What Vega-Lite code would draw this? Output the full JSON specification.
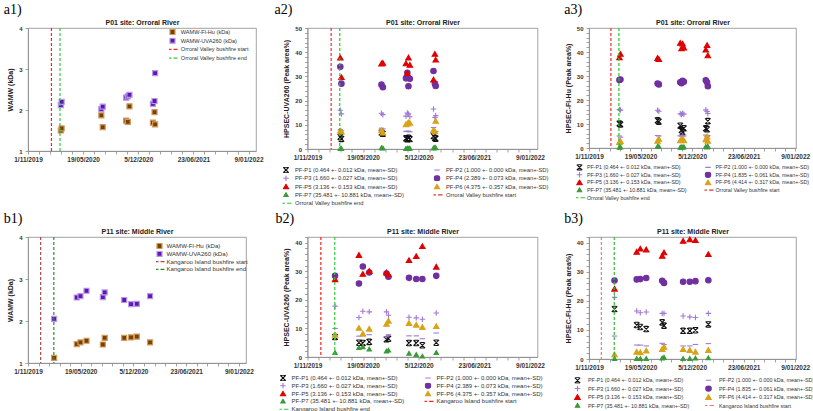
{
  "$schema": "https://vega.github.io/schema/vega-lite/v6.json",
  "background": "white",
  "padding": {"left": 3, "top": 2, "right": 0, "bottom": 0},
  "bounds": "flush",
  "align": "each",
  "columns": 3,
  "spacing": {"row": 86, "column": 51.5},
  "resolve": {"scale": {"fill": "independent", "stroke": "independent", "shape": "independent"}, "legend": {"fill": "independent", "stroke": "independent", "shape": "independent"}},
  "config": {
    "font": "Liberation Sans",
    "view": {"stroke": "#8c8c8c", "strokeWidth": 0.8},
    "axis": {"grid": false, "domainColor": "#8c8c8c", "domainWidth": 0.8, "tickColor": "#8c8c8c", "tickWidth": 0.8, "tickSize": 3, "labelFont": "Liberation Sans", "labelFontWeight": "bold", "labelColor": "#333333", "titleFont": "Liberation Sans", "titleFontWeight": "bold", "titleColor": "#222222", "titleFontSize": 7, "labelOverlap": false},
    "axisX": {"labelFontSize": 6.5, "labelPadding": 2},
    "axisY": {"labelFontSize": 6, "labelPadding": 3, "titlePadding": 5},
    "legend": {"labelFont": "Liberation Sans", "labelColor": "#333333", "padding": 0, "symbolFillColor": "transparent", "symbolOpacity": 1, "clipHeight": 6},
    "title": {"font": "Liberation Serif", "fontSize": 14, "fontWeight": "normal", "color": "#000000", "anchor": "start", "offset": 1}
  },
  "datasets": {
    "fireO": [{"d": "2020-01-25", "s": "start"}, {"d": "2020-02-25", "s": "end"}],
    "fireK": [{"d": "2019-12-19", "s": "start"}, {"d": "2020-02-07", "s": "end"}],
    "a1": [
      {"d": "2020-02-28", "s": "Fl", "v": 1.50}, {"d": "2020-03-02", "s": "Fl", "v": 1.55}, {"d": "2020-07-24", "s": "Fl", "v": 1.87}, {"d": "2020-07-29", "s": "Fl", "v": 1.58}, {"d": "2020-10-22", "s": "Fl", "v": 1.74}, {"d": "2020-10-28", "s": "Fl", "v": 1.71}, {"d": "2020-11-03", "s": "Fl", "v": 2.09}, {"d": "2021-01-27", "s": "Fl", "v": 1.69}, {"d": "2021-02-02", "s": "Fl", "v": 1.95}, {"d": "2021-02-04", "s": "Fl", "v": 1.65},
      {"d": "2020-02-28", "s": "UV", "v": 2.12}, {"d": "2020-03-02", "s": "UV", "v": 2.20}, {"d": "2020-07-24", "s": "UV", "v": 2.02}, {"d": "2020-07-29", "s": "UV", "v": 2.08}, {"d": "2020-10-22", "s": "UV", "v": 2.30}, {"d": "2020-10-28", "s": "UV", "v": 2.33}, {"d": "2020-11-03", "s": "UV", "v": 2.37}, {"d": "2021-01-27", "s": "UV", "v": 2.15}, {"d": "2021-02-02", "s": "UV", "v": 2.22}, {"d": "2021-02-04", "s": "UV", "v": 2.90}
    ],
    "b1": [
      {"d": "2020-02-08", "s": "Fl", "v": 1.12}, {"d": "2020-05-04", "s": "Fl", "v": 1.45}, {"d": "2020-05-18", "s": "Fl", "v": 1.49}, {"d": "2020-06-10", "s": "Fl", "v": 1.53}, {"d": "2020-08-11", "s": "Fl", "v": 1.44}, {"d": "2020-08-18", "s": "Fl", "v": 1.60}, {"d": "2020-10-31", "s": "Fl", "v": 1.60}, {"d": "2020-11-26", "s": "Fl", "v": 1.61}, {"d": "2020-12-18", "s": "Fl", "v": 1.63}, {"d": "2021-02-06", "s": "Fl", "v": 1.49},
      {"d": "2020-02-08", "s": "UV", "v": 2.05}, {"d": "2020-05-04", "s": "UV", "v": 2.56}, {"d": "2020-05-18", "s": "UV", "v": 2.59}, {"d": "2020-06-10", "s": "UV", "v": 2.72}, {"d": "2020-08-11", "s": "UV", "v": 2.57}, {"d": "2020-08-18", "s": "UV", "v": 2.68}, {"d": "2020-10-31", "s": "UV", "v": 2.50}, {"d": "2020-11-26", "s": "UV", "v": 2.40}, {"d": "2020-12-18", "s": "UV", "v": 2.41}, {"d": "2021-02-06", "s": "UV", "v": 2.59}
    ],
    "a2": [
      {"d": "2020-02-27", "s": "P1", "v": 5.0}, {"d": "2020-03-02", "s": "P1", "v": 4.2}, {"d": "2020-07-24", "s": "P1", "v": 6.8}, {"d": "2020-07-29", "s": "P1", "v": 6.3}, {"d": "2020-10-20", "s": "P1", "v": 4.4}, {"d": "2020-10-25", "s": "P1", "v": 4.0}, {"d": "2020-10-29", "s": "P1", "v": 4.6}, {"d": "2020-11-03", "s": "P1", "v": 4.1}, {"d": "2021-01-27", "s": "P1", "v": 5.3}, {"d": "2021-02-01", "s": "P1", "v": 4.5}, {"d": "2021-02-04", "s": "P1", "v": 4.3},
      {"d": "2020-02-27", "s": "P2", "v": 8.0}, {"d": "2020-03-02", "s": "P2", "v": 7.5}, {"d": "2020-07-24", "s": "P2", "v": 8.6}, {"d": "2020-07-29", "s": "P2", "v": 8.3}, {"d": "2020-10-20", "s": "P2", "v": 7.3}, {"d": "2020-10-25", "s": "P2", "v": 7.2}, {"d": "2020-10-29", "s": "P2", "v": 7.4}, {"d": "2020-11-03", "s": "P2", "v": 7.1}, {"d": "2021-01-27", "s": "P2", "v": 8.9}, {"d": "2021-02-01", "s": "P2", "v": 7.3}, {"d": "2021-02-04", "s": "P2", "v": 7.2},
      {"d": "2020-02-27", "s": "P3", "v": 16.0}, {"d": "2020-03-02", "s": "P3", "v": 14.5}, {"d": "2020-07-24", "s": "P3", "v": 14.8}, {"d": "2020-07-29", "s": "P3", "v": 14.2}, {"d": "2020-10-20", "s": "P3", "v": 13.6}, {"d": "2020-10-25", "s": "P3", "v": 14.9}, {"d": "2020-10-29", "s": "P3", "v": 14.5}, {"d": "2020-11-03", "s": "P3", "v": 13.3}, {"d": "2021-01-27", "s": "P3", "v": 16.5}, {"d": "2021-02-01", "s": "P3", "v": 13.0}, {"d": "2021-02-04", "s": "P3", "v": 13.8},
      {"d": "2020-02-27", "s": "P4", "v": 34.0}, {"d": "2020-03-02", "s": "P4", "v": 27.0}, {"d": "2020-07-24", "s": "P4", "v": 26.6}, {"d": "2020-07-29", "s": "P4", "v": 25.5}, {"d": "2020-10-20", "s": "P4", "v": 29.2}, {"d": "2020-10-25", "s": "P4", "v": 31.5}, {"d": "2020-10-29", "s": "P4", "v": 25.9}, {"d": "2020-11-03", "s": "P4", "v": 29.0}, {"d": "2021-01-27", "s": "P4", "v": 32.2}, {"d": "2021-02-01", "s": "P4", "v": 27.0}, {"d": "2021-02-04", "s": "P4", "v": 26.0},
      {"d": "2020-02-27", "s": "P5", "v": 37.8}, {"d": "2020-03-02", "s": "P5", "v": 29.7}, {"d": "2020-07-24", "s": "P5", "v": 35.3}, {"d": "2020-07-29", "s": "P5", "v": 35.6}, {"d": "2020-10-20", "s": "P5", "v": 35.4}, {"d": "2020-10-25", "s": "P5", "v": 31.4}, {"d": "2020-10-29", "s": "P5", "v": 37.8}, {"d": "2020-11-03", "s": "P5", "v": 34.8}, {"d": "2021-01-27", "s": "P5", "v": 28.7}, {"d": "2021-02-01", "s": "P5", "v": 39.3}, {"d": "2021-02-04", "s": "P5", "v": 36.9},
      {"d": "2020-02-27", "s": "P6", "v": 7.6}, {"d": "2020-03-02", "s": "P6", "v": 7.2}, {"d": "2020-07-24", "s": "P6", "v": 7.8}, {"d": "2020-07-29", "s": "P6", "v": 6.8}, {"d": "2020-10-20", "s": "P6", "v": 10.2}, {"d": "2020-10-25", "s": "P6", "v": 10.5}, {"d": "2020-10-29", "s": "P6", "v": 11.0}, {"d": "2020-11-03", "s": "P6", "v": 10.8}, {"d": "2021-01-27", "s": "P6", "v": 7.9}, {"d": "2021-02-01", "s": "P6", "v": 7.3}, {"d": "2021-02-04", "s": "P6", "v": 11.6},
      {"d": "2020-02-27", "s": "P7", "v": 0.1}, {"d": "2020-03-02", "s": "P7", "v": 0.1}, {"d": "2020-07-24", "s": "P7", "v": 0.4}, {"d": "2020-07-29", "s": "P7", "v": 0.3}, {"d": "2020-10-20", "s": "P7", "v": 0.1}, {"d": "2020-10-25", "s": "P7", "v": 0.2}, {"d": "2020-10-29", "s": "P7", "v": 0.1}, {"d": "2020-11-03", "s": "P7", "v": 0.2}, {"d": "2021-01-27", "s": "P7", "v": 0.3}, {"d": "2021-02-01", "s": "P7", "v": 0.6}, {"d": "2021-02-04", "s": "P7", "v": 0.4}
    ],
    "a3": [
      {"d": "2020-02-27", "s": "P1", "v": 10.2}, {"d": "2020-03-02", "s": "P1", "v": 9.8}, {"d": "2020-07-24", "s": "P1", "v": 11.5}, {"d": "2020-07-29", "s": "P1", "v": 11.0}, {"d": "2020-10-20", "s": "P1", "v": 9.3}, {"d": "2020-10-25", "s": "P1", "v": 7.4}, {"d": "2020-10-29", "s": "P1", "v": 6.6}, {"d": "2020-11-03", "s": "P1", "v": 8.2}, {"d": "2021-01-27", "s": "P1", "v": 8.2}, {"d": "2021-02-01", "s": "P1", "v": 7.8}, {"d": "2021-02-04", "s": "P1", "v": 11.2},
      {"d": "2020-02-27", "s": "P2", "v": 5.0}, {"d": "2020-03-02", "s": "P2", "v": 4.5}, {"d": "2020-07-24", "s": "P2", "v": 5.2}, {"d": "2020-07-29", "s": "P2", "v": 5.0}, {"d": "2020-10-20", "s": "P2", "v": 5.1}, {"d": "2020-10-25", "s": "P2", "v": 4.9}, {"d": "2020-10-29", "s": "P2", "v": 5.3}, {"d": "2020-11-03", "s": "P2", "v": 5.0}, {"d": "2021-01-27", "s": "P2", "v": 5.4}, {"d": "2021-02-01", "s": "P2", "v": 4.8}, {"d": "2021-02-04", "s": "P2", "v": 5.2},
      {"d": "2020-02-27", "s": "P3", "v": 16.0}, {"d": "2020-03-02", "s": "P3", "v": 15.8}, {"d": "2020-07-24", "s": "P3", "v": 15.7}, {"d": "2020-07-29", "s": "P3", "v": 15.3}, {"d": "2020-10-20", "s": "P3", "v": 14.3}, {"d": "2020-10-25", "s": "P3", "v": 14.0}, {"d": "2020-10-29", "s": "P3", "v": 14.5}, {"d": "2020-11-03", "s": "P3", "v": 14.1}, {"d": "2021-01-27", "s": "P3", "v": 15.9}, {"d": "2021-02-01", "s": "P3", "v": 15.2}, {"d": "2021-02-04", "s": "P3", "v": 14.4},
      {"d": "2020-02-27", "s": "P4", "v": 28.3}, {"d": "2020-03-02", "s": "P4", "v": 28.5}, {"d": "2020-07-24", "s": "P4", "v": 26.9}, {"d": "2020-07-29", "s": "P4", "v": 26.5}, {"d": "2020-10-20", "s": "P4", "v": 27.4}, {"d": "2020-10-25", "s": "P4", "v": 27.0}, {"d": "2020-10-29", "s": "P4", "v": 28.0}, {"d": "2020-11-03", "s": "P4", "v": 27.6}, {"d": "2021-01-27", "s": "P4", "v": 28.2}, {"d": "2021-02-01", "s": "P4", "v": 27.4}, {"d": "2021-02-04", "s": "P4", "v": 25.7},
      {"d": "2020-02-27", "s": "P5", "v": 37.8}, {"d": "2020-03-02", "s": "P5", "v": 39.2}, {"d": "2020-07-24", "s": "P5", "v": 37.5}, {"d": "2020-07-29", "s": "P5", "v": 37.0}, {"d": "2020-10-20", "s": "P5", "v": 43.8}, {"d": "2020-10-25", "s": "P5", "v": 41.5}, {"d": "2020-10-29", "s": "P5", "v": 43.5}, {"d": "2020-11-03", "s": "P5", "v": 41.8}, {"d": "2021-01-27", "s": "P5", "v": 41.0}, {"d": "2021-02-01", "s": "P5", "v": 42.9}, {"d": "2021-02-04", "s": "P5", "v": 38.6},
      {"d": "2020-02-27", "s": "P6", "v": 2.5}, {"d": "2020-03-02", "s": "P6", "v": 2.9}, {"d": "2020-07-24", "s": "P6", "v": 3.0}, {"d": "2020-07-29", "s": "P6", "v": 3.8}, {"d": "2020-10-20", "s": "P6", "v": 3.2}, {"d": "2020-10-25", "s": "P6", "v": 3.5}, {"d": "2020-10-29", "s": "P6", "v": 3.8}, {"d": "2020-11-03", "s": "P6", "v": 3.2}, {"d": "2021-01-27", "s": "P6", "v": 3.6}, {"d": "2021-02-01", "s": "P6", "v": 4.8}, {"d": "2021-02-04", "s": "P6", "v": 3.0},
      {"d": "2020-02-27", "s": "P7", "v": 0.2}, {"d": "2020-03-02", "s": "P7", "v": 0.3}, {"d": "2020-07-24", "s": "P7", "v": 0.6}, {"d": "2020-07-29", "s": "P7", "v": 0.5}, {"d": "2020-10-20", "s": "P7", "v": 0.2}, {"d": "2020-10-25", "s": "P7", "v": 0.3}, {"d": "2020-10-29", "s": "P7", "v": 0.2}, {"d": "2020-11-03", "s": "P7", "v": 0.4}, {"d": "2021-01-27", "s": "P7", "v": 0.5}, {"d": "2021-02-01", "s": "P7", "v": 0.3}, {"d": "2021-02-04", "s": "P7", "v": 0.6}
    ],
    "b2": [
      {"d": "2020-02-08", "s": "P1", "v": 7.0}, {"d": "2020-05-04", "s": "P1", "v": 5.0}, {"d": "2020-05-18", "s": "P1", "v": 4.9}, {"d": "2020-06-10", "s": "P1", "v": 5.3}, {"d": "2020-08-11", "s": "P1", "v": 6.2}, {"d": "2020-08-18", "s": "P1", "v": 6.4}, {"d": "2020-10-31", "s": "P1", "v": 4.9}, {"d": "2020-11-26", "s": "P1", "v": 4.9}, {"d": "2020-12-18", "s": "P1", "v": 4.1}, {"d": "2021-02-06", "s": "P1", "v": 5.0},
      {"d": "2020-02-08", "s": "P2", "v": 10.0}, {"d": "2020-05-04", "s": "P2", "v": 7.3}, {"d": "2020-05-18", "s": "P2", "v": 7.4}, {"d": "2020-06-10", "s": "P2", "v": 7.8}, {"d": "2020-08-11", "s": "P2", "v": 7.1}, {"d": "2020-08-18", "s": "P2", "v": 7.8}, {"d": "2020-10-31", "s": "P2", "v": 7.4}, {"d": "2020-11-26", "s": "P2", "v": 7.4}, {"d": "2020-12-18", "s": "P2", "v": 6.4}, {"d": "2021-02-06", "s": "P2", "v": 8.4},
      {"d": "2020-02-08", "s": "P3", "v": 17.8}, {"d": "2020-05-04", "s": "P3", "v": 13.8}, {"d": "2020-05-18", "s": "P3", "v": 16.0}, {"d": "2020-06-10", "s": "P3", "v": 15.8}, {"d": "2020-08-11", "s": "P3", "v": 15.8}, {"d": "2020-08-18", "s": "P3", "v": 14.6}, {"d": "2020-10-31", "s": "P3", "v": 13.9}, {"d": "2020-11-26", "s": "P3", "v": 13.7}, {"d": "2020-12-18", "s": "P3", "v": 13.2}, {"d": "2021-02-06", "s": "P3", "v": 15.4},
      {"d": "2020-02-08", "s": "P4", "v": 28.4}, {"d": "2020-05-04", "s": "P4", "v": 25.7}, {"d": "2020-05-18", "s": "P4", "v": 31.7}, {"d": "2020-06-10", "s": "P4", "v": 29.6}, {"d": "2020-08-11", "s": "P4", "v": 29.2}, {"d": "2020-08-18", "s": "P4", "v": 28.1}, {"d": "2020-10-31", "s": "P4", "v": 27.7}, {"d": "2020-11-26", "s": "P4", "v": 27.3}, {"d": "2020-12-18", "s": "P4", "v": 27.3}, {"d": "2021-02-06", "s": "P4", "v": 28.4},
      {"d": "2020-02-08", "s": "P5", "v": 27.2}, {"d": "2020-05-04", "s": "P5", "v": 35.7}, {"d": "2020-05-18", "s": "P5", "v": 29.1}, {"d": "2020-06-10", "s": "P5", "v": 30.1}, {"d": "2020-08-11", "s": "P5", "v": 29.6}, {"d": "2020-08-18", "s": "P5", "v": 28.9}, {"d": "2020-10-31", "s": "P5", "v": 33.9}, {"d": "2020-11-26", "s": "P5", "v": 35.3}, {"d": "2020-12-18", "s": "P5", "v": 38.8}, {"d": "2021-02-06", "s": "P5", "v": 31.6},
      {"d": "2020-02-08", "s": "P6", "v": 7.8}, {"d": "2020-05-04", "s": "P6", "v": 10.2}, {"d": "2020-05-18", "s": "P6", "v": 8.2}, {"d": "2020-06-10", "s": "P6", "v": 9.9}, {"d": "2020-08-11", "s": "P6", "v": 11.6}, {"d": "2020-08-18", "s": "P6", "v": 12.7}, {"d": "2020-10-31", "s": "P6", "v": 11.9}, {"d": "2020-11-26", "s": "P6", "v": 11.3}, {"d": "2020-12-18", "s": "P6", "v": 10.5}, {"d": "2021-02-06", "s": "P6", "v": 10.8},
      {"d": "2020-02-08", "s": "P7", "v": 1.5}, {"d": "2020-05-04", "s": "P7", "v": 3.2}, {"d": "2020-05-18", "s": "P7", "v": 3.5}, {"d": "2020-06-10", "s": "P7", "v": 2.7}, {"d": "2020-08-11", "s": "P7", "v": 2.0}, {"d": "2020-08-18", "s": "P7", "v": 2.3}, {"d": "2020-10-31", "s": "P7", "v": 1.2}, {"d": "2020-11-26", "s": "P7", "v": 0.8}, {"d": "2020-12-18", "s": "P7", "v": 0.2}, {"d": "2021-02-06", "s": "P7", "v": 1.5}
    ],
    "b3": [
      {"d": "2020-02-08", "s": "P1", "v": 17.2}, {"d": "2020-05-04", "s": "P1", "v": 11.7}, {"d": "2020-05-18", "s": "P1", "v": 11.0}, {"d": "2020-06-10", "s": "P1", "v": 10.3}, {"d": "2020-08-11", "s": "P1", "v": 12.6}, {"d": "2020-08-18", "s": "P1", "v": 11.5}, {"d": "2020-10-31", "s": "P1", "v": 9.7}, {"d": "2020-11-26", "s": "P1", "v": 9.7}, {"d": "2020-12-18", "s": "P1", "v": 9.9}, {"d": "2021-02-06", "s": "P1", "v": 11.9},
      {"d": "2020-02-08", "s": "P2", "v": 7.9}, {"d": "2020-05-04", "s": "P2", "v": 4.8}, {"d": "2020-05-18", "s": "P2", "v": 4.8}, {"d": "2020-06-10", "s": "P2", "v": 4.5}, {"d": "2020-08-11", "s": "P2", "v": 5.4}, {"d": "2020-08-18", "s": "P2", "v": 5.0}, {"d": "2020-10-31", "s": "P2", "v": 4.5}, {"d": "2020-11-26", "s": "P2", "v": 4.5}, {"d": "2020-12-18", "s": "P2", "v": 5.0}, {"d": "2021-02-06", "s": "P2", "v": 5.3},
      {"d": "2020-02-08", "s": "P3", "v": 21.2}, {"d": "2020-05-04", "s": "P3", "v": 16.5}, {"d": "2020-05-18", "s": "P3", "v": 15.9}, {"d": "2020-06-10", "s": "P3", "v": 16.2}, {"d": "2020-08-11", "s": "P3", "v": 15.7}, {"d": "2020-08-18", "s": "P3", "v": 15.7}, {"d": "2020-10-31", "s": "P3", "v": 14.8}, {"d": "2020-11-26", "s": "P3", "v": 14.5}, {"d": "2020-12-18", "s": "P3", "v": 14.3}, {"d": "2021-02-06", "s": "P3", "v": 15.7},
      {"d": "2020-02-08", "s": "P4", "v": 27.0}, {"d": "2020-05-04", "s": "P4", "v": 27.4}, {"d": "2020-05-18", "s": "P4", "v": 27.5}, {"d": "2020-06-10", "s": "P4", "v": 27.9}, {"d": "2020-08-11", "s": "P4", "v": 26.9}, {"d": "2020-08-18", "s": "P4", "v": 26.2}, {"d": "2020-10-31", "s": "P4", "v": 26.6}, {"d": "2020-11-26", "s": "P4", "v": 26.6}, {"d": "2020-12-18", "s": "P4", "v": 26.8}, {"d": "2021-02-06", "s": "P4", "v": 27.1},
      {"d": "2020-02-08", "s": "P5", "v": 24.2}, {"d": "2020-05-04", "s": "P5", "v": 36.9}, {"d": "2020-05-18", "s": "P5", "v": 38.0}, {"d": "2020-06-10", "s": "P5", "v": 37.7}, {"d": "2020-08-11", "s": "P5", "v": 35.5}, {"d": "2020-08-18", "s": "P5", "v": 36.7}, {"d": "2020-10-31", "s": "P5", "v": 40.7}, {"d": "2020-11-26", "s": "P5", "v": 41.2}, {"d": "2020-12-18", "s": "P5", "v": 40.9}, {"d": "2021-02-06", "s": "P5", "v": 36.1},
      {"d": "2020-02-08", "s": "P6", "v": 1.6}, {"d": "2020-05-04", "s": "P6", "v": 2.5}, {"d": "2020-05-18", "s": "P6", "v": 2.3}, {"d": "2020-06-10", "s": "P6", "v": 2.9}, {"d": "2020-08-11", "s": "P6", "v": 3.4}, {"d": "2020-08-18", "s": "P6", "v": 4.2}, {"d": "2020-10-31", "s": "P6", "v": 3.4}, {"d": "2020-11-26", "s": "P6", "v": 3.1}, {"d": "2020-12-18", "s": "P6", "v": 2.5}, {"d": "2021-02-06", "s": "P6", "v": 3.1},
      {"d": "2020-02-08", "s": "P7", "v": 0.1}, {"d": "2020-05-04", "s": "P7", "v": 0.1}, {"d": "2020-05-18", "s": "P7", "v": 0.1}, {"d": "2020-06-10", "s": "P7", "v": 0.1}, {"d": "2020-08-11", "s": "P7", "v": 0.2}, {"d": "2020-08-18", "s": "P7", "v": 0.5}, {"d": "2020-10-31", "s": "P7", "v": 0.1}, {"d": "2020-11-26", "s": "P7", "v": 0.1}, {"d": "2020-12-18", "s": "P7", "v": 0.2}, {"d": "2021-02-06", "s": "P7", "v": 0.3}
    ]
  },
  "concat": [
    {
      "width": 228, "height": 123,
      "title": {"text": "a1)", "dx": -3},
      "resolve": {"axis": {"x": "independent"}},
      "layer": [
        {
          "data": {"name": "a1"},
          "mark": {"type": "point", "opacity": 1, "size": 25, "strokeWidth": 1.2},
          "encoding": {
            "x": {"field": "d", "type": "temporal", "scale": {"type": "utc", "domain": [1572566400000, 1644019200000]}, "axis": {"title": null, "values": [1572566400000, 1576022400000, 1579478400000, 1582934400000, 1586390400000, 1589846400000, 1593302400000, 1596758400000, 1600214400000, 1603670400000, 1607126400000, 1610582400000, 1614038400000, 1617494400000, 1620950400000, 1624406400000, 1627862400000, 1631318400000, 1634774400000, 1638230400000, 1641686400000], "format": "%-d/%m/%Y", "labelExpr": "indexof(['1/11/2019','19/05/2020','5/12/2020','23/06/2021','9/01/2022'], datum.label) >= 0 ? datum.label : ''", "labelOverlap": false, "labelFlush": false}},
            "y": {"field": "v", "type": "quantitative", "scale": {"domain": [1, 4], "nice": false, "zero": false}, "axis": {"title": "WAMW (kDa)", "values": [1, 2, 3, 4], "format": "d", "labelOverlap": false}},
            "shape": {"field": "s", "type": "nominal", "scale": {"domain": ["Fl", "UV", "start", "end"], "range": ["square", "square", "M-2,0L-0.4,0M0.4,0L2,0", "M-2,0L-0.4,0M0.4,0L2,0"]}, "legend": {"orient": "none", "legendX": 141, "legendY": 1, "clipHeight": 6, "rowPadding": 1.7, "labelFontSize": 5.6, "labelOffset": 4.8, "symbolSize": 25, "symbolStrokeWidth": 1.2, "title": null, "labelExpr": "['WAMW-Fl-Hu (kDa)','WAMW-UVA260 (kDa)','Orroral Valley bushfire start','Orroral Valley bushfire end'][indexof(['Fl','UV','start','end'], datum.label)]"}},
            "fill": {"field": "s", "type": "nominal", "scale": {"domain": ["Fl", "UV", "start", "end"], "range": ["#7b3f00", "#6414b4", "transparent", "transparent"]}, "legend": {"orient": "none", "legendX": 141, "legendY": 1, "title": null}},
            "stroke": {"field": "s", "type": "nominal", "scale": {"domain": ["Fl", "UV", "start", "end"], "range": ["#cf9a5e", "#b39ae6", "#ff2020", "#2ecc40"]}, "legend": {"orient": "none", "legendX": 141, "legendY": 1, "title": null}}
          }
        },
        {
          "data": {"name": "fireO"},
          "mark": {"type": "rule", "strokeDash": [3, 2], "strokeWidth": 1.2},
          "encoding": {
            "x": {"field": "d", "type": "temporal", "axis": {"orient": "top", "title": "P01 site: Orroral River", "labels": false, "ticks": false, "domain": false, "titlePadding": 3}},
            "stroke": {"field": "s", "type": "nominal", "scale": {"domain": ["Fl", "UV", "start", "end"], "range": ["#cf9a5e", "#b39ae6", "#ff2020", "#2ecc40"]}, "legend": null}
          }
        }
      ]
    },
    {
      "width": 230, "height": 121,
      "title": {"text": "a2)", "dx": -8},
      "resolve": {"axis": {"x": "independent"}},
      "layer": [
        {
          "data": {"name": "a2"},
          "mark": {"type": "point", "opacity": 1, "size": 30, "strokeWidth": 1.1},
          "encoding": {
            "x": {"field": "d", "type": "temporal", "scale": {"type": "utc", "domain": [1572566400000, 1644019200000]}, "axis": {"title": null, "values": [1572566400000, 1576022400000, 1579478400000, 1582934400000, 1586390400000, 1589846400000, 1593302400000, 1596758400000, 1600214400000, 1603670400000, 1607126400000, 1610582400000, 1614038400000, 1617494400000, 1620950400000, 1624406400000, 1627862400000, 1631318400000, 1634774400000, 1638230400000, 1641686400000], "format": "%-d/%m/%Y", "labelExpr": "indexof(['1/11/2019','19/05/2020','5/12/2020','23/06/2021','9/01/2022'], datum.label) >= 0 ? datum.label : ''", "labelOverlap": false, "labelFlush": false}},
            "y": {"field": "v", "type": "quantitative", "scale": {"domain": [0, 50], "nice": false}, "axis": {"title": "HPSEC-UVA260 (Peak area%)", "values": [0, 2, 4, 6, 8, 10, 12, 14, 16, 18, 20, 22, 24, 26, 28, 30, 32, 34, 36, 38, 40, 42, 44, 46, 48, 50], "format": "d", "labelOverlap": false, "labelExpr": "datum.value % 10 === 0 ? datum.label : ''"}},
            "shape": {"field": "s", "type": "nominal", "scale": {"domain": ["P1", "P2", "P3", "P4", "P5", "P6", "P7", "start", "end"], "range": ["M-1,-1L1,1M-1,1L1,-1M-0.7,-1L0.7,-1M-0.7,1L0.7,1", "M-1,0L1,0", "M-1,0L1,0M0,-1L0,1", "circle", "triangle-up", "triangle-up", "M0,-0.8L0.8,0.6L-0.8,0.6Z", "M-2,0L-0.4,0M0.4,0L2,0", "M-2,0L-0.4,0M0.4,0L2,0"]}, "legend": {"orient": "none", "direction": "horizontal", "legendX": -25, "legendY": 139, "columns": 2, "columnPadding": 29, "clipHeight": 6, "rowPadding": 2.3, "labelFontSize": 5.8, "labelOffset": 5.5, "symbolSize": 30, "symbolStrokeWidth": 1.1, "title": null, "labelExpr": "['PF-P1 (0.464 +- 0.012 kDa, mean+-SD)','PF-P2 (1.000 +- 0.000 kDa, mean+-SD)','PF-P3 (1.660 +- 0.027 kDa, mean+-SD)','PF-P4 (2.389 +- 0.073 kDa, mean+-SD)','PF-P5 (3.136 +- 0.153 kDa, mean+-SD)','PF-P6 (4.375 +- 0.357 kDa, mean+-SD)','PF-P7 (35.481 +- 10.881 kDa, mean+-SD)','Orroral Valley bushfire start','Orroral Valley bushfire end'][indexof(['P1','P2','P3','P4','P5','P6','P7','start','end'], datum.label)]"}},
            "fill": {"field": "s", "type": "nominal", "scale": {"domain": ["P1", "P2", "P3", "P4", "P5", "P6", "P7", "start", "end"], "range": ["transparent", "transparent", "transparent", "#7030a0", "#e00000", "#d9a21b", "#3a9a3a", "transparent", "transparent"]}, "legend": {"orient": "none", "direction": "horizontal", "columns": 2, "legendX": -25, "legendY": 139, "title": null}},
            "stroke": {"field": "s", "type": "nominal", "scale": {"domain": ["P1", "P2", "P3", "P4", "P5", "P6", "P7", "start", "end"], "range": ["#111111", "#a07ad8", "#a07ad8", "#7030a0", "#e00000", "#d9a21b", "#3a9a3a", "#e83030", "#22cc22"]}, "legend": {"orient": "none", "direction": "horizontal", "columns": 2, "legendX": -25, "legendY": 139, "title": null}}
          }
        },
        {
          "data": {"name": "fireO"},
          "mark": {"type": "rule", "strokeDash": [3, 2], "strokeWidth": 1.2},
          "encoding": {
            "x": {"field": "d", "type": "temporal", "axis": {"orient": "top", "title": "P01 site: Orroral River", "labels": false, "ticks": false, "domain": false, "titlePadding": 3}},
            "stroke": {"field": "s", "type": "nominal", "scale": {"domain": ["P1", "P2", "P3", "P4", "P5", "P6", "P7", "start", "end"], "range": ["#111111", "#a07ad8", "#a07ad8", "#7030a0", "#e00000", "#d9a21b", "#3a9a3a", "#e83030", "#22cc22"]}, "legend": null}
          }
        }
      ]
    },
    {
      "width": 207, "height": 120,
      "title": {"text": "a3)", "dx": 0},
      "resolve": {"axis": {"x": "independent"}},
      "layer": [
        {
          "data": {"name": "a3"},
          "mark": {"type": "point", "opacity": 1, "size": 30, "strokeWidth": 1.1},
          "encoding": {
            "x": {"field": "d", "type": "temporal", "scale": {"type": "utc", "domain": [1572566400000, 1641945600000]}, "axis": {"title": null, "values": [1572566400000, 1576022400000, 1579478400000, 1582934400000, 1586390400000, 1589846400000, 1593302400000, 1596758400000, 1600214400000, 1603670400000, 1607126400000, 1610582400000, 1614038400000, 1617494400000, 1620950400000, 1624406400000, 1627862400000, 1631318400000, 1634774400000, 1638230400000, 1641686400000], "format": "%-d/%m/%Y", "labelExpr": "indexof(['1/11/2019','19/05/2020','5/12/2020','23/06/2021','9/01/2022'], datum.label) >= 0 ? datum.label : ''", "labelOverlap": false, "labelFlush": false}},
            "y": {"field": "v", "type": "quantitative", "scale": {"domain": [0, 50], "nice": false}, "axis": {"title": "HPSEC-Fl-Hu (Peak area%)", "values": [0, 2, 4, 6, 8, 10, 12, 14, 16, 18, 20, 22, 24, 26, 28, 30, 32, 34, 36, 38, 40, 42, 44, 46, 48, 50], "format": "d", "labelOverlap": false, "labelExpr": "datum.value % 10 === 0 ? datum.label : ''"}},
            "shape": {"field": "s", "type": "nominal", "scale": {"domain": ["P1", "P2", "P3", "P4", "P5", "P6", "P7", "start", "end"], "range": ["M-1,-1L1,1M-1,1L1,-1M-0.7,-1L0.7,-1M-0.7,1L0.7,1", "M-1,0L1,0", "M-1,0L1,0M0,-1L0,1", "circle", "triangle-up", "triangle-up", "M0,-0.8L0.8,0.6L-0.8,0.6Z", "M-2,0L-0.4,0M0.4,0L2,0", "M-2,0L-0.4,0M0.4,0L2,0"]}, "legend": {"orient": "none", "direction": "horizontal", "legendX": -13, "legendY": 136, "columns": 2, "columnPadding": 17.5, "clipHeight": 6, "rowPadding": 0.7, "labelFontSize": 5.3, "labelOffset": 4, "symbolSize": 30, "symbolStrokeWidth": 1.1, "title": null, "labelExpr": "['PF-P1 (0.464 +- 0.012 kDa, mean+-SD)','PF-P2 (1.000 +- 0.000 kDa, mean+-SD)','PF-P3 (1.660 +- 0.027 kDa, mean+-SD)','PF-P4 (1.835 +- 0.061 kDa, mean+-SD)','PF-P5 (3.136 +- 0.153 kDa, mean+-SD)','PF-P6 (4.414 +- 0.317 kDa, mean+-SD)','PF-P7 (35.481 +- 10.881 kDa, mean+-SD)','Orroral Valley bushfire start','Orroral Valley bushfire end'][indexof(['P1','P2','P3','P4','P5','P6','P7','start','end'], datum.label)]"}},
            "fill": {"field": "s", "type": "nominal", "scale": {"domain": ["P1", "P2", "P3", "P4", "P5", "P6", "P7", "start", "end"], "range": ["transparent", "transparent", "transparent", "#7030a0", "#e00000", "#d9a21b", "#3a9a3a", "transparent", "transparent"]}, "legend": {"orient": "none", "direction": "horizontal", "columns": 2, "legendX": -13, "legendY": 136, "title": null}},
            "stroke": {"field": "s", "type": "nominal", "scale": {"domain": ["P1", "P2", "P3", "P4", "P5", "P6", "P7", "start", "end"], "range": ["#111111", "#a07ad8", "#a07ad8", "#7030a0", "#e00000", "#d9a21b", "#3a9a3a", "#e83030", "#22cc22"]}, "legend": {"orient": "none", "direction": "horizontal", "columns": 2, "legendX": -13, "legendY": 136, "title": null}}
          }
        },
        {
          "data": {"name": "fireO"},
          "mark": {"type": "rule", "strokeDash": [3, 2], "strokeWidth": 1.2},
          "encoding": {
            "x": {"field": "d", "type": "temporal", "axis": {"orient": "top", "title": "P01 site: Orroral River", "labels": false, "ticks": false, "domain": false, "titlePadding": 3}},
            "stroke": {"field": "s", "type": "nominal", "scale": {"domain": ["P1", "P2", "P3", "P4", "P5", "P6", "P7", "start", "end"], "range": ["#111111", "#a07ad8", "#a07ad8", "#7030a0", "#e00000", "#d9a21b", "#3a9a3a", "#e83030", "#22cc22"]}, "legend": null}
          }
        }
      ]
    },
    {
      "width": 218, "height": 126,
      "title": {"text": "b1)", "dx": -3},
      "resolve": {"axis": {"x": "independent"}},
      "layer": [
        {
          "data": {"name": "b1"},
          "mark": {"type": "point", "opacity": 1, "size": 25, "strokeWidth": 1.2},
          "encoding": {
            "x": {"field": "d", "type": "temporal", "scale": {"type": "utc", "domain": [1572566400000, 1644019200000]}, "axis": {"title": null, "values": [1572566400000, 1576022400000, 1579478400000, 1582934400000, 1586390400000, 1589846400000, 1593302400000, 1596758400000, 1600214400000, 1603670400000, 1607126400000, 1610582400000, 1614038400000, 1617494400000, 1620950400000, 1624406400000, 1627862400000, 1631318400000, 1634774400000, 1638230400000, 1641686400000], "format": "%-d/%m/%Y", "labelExpr": "indexof(['1/11/2019','19/05/2020','5/12/2020','23/06/2021','9/01/2022'], datum.label) >= 0 ? datum.label : ''", "labelOverlap": false, "labelFlush": false}},
            "y": {"field": "v", "type": "quantitative", "scale": {"domain": [1, 4], "nice": false, "zero": false}, "axis": {"title": "WAMW (kDa)", "values": [1, 2, 3, 4], "format": "d", "labelOverlap": false}},
            "shape": {"field": "s", "type": "nominal", "scale": {"domain": ["Fl", "UV", "start", "end"], "range": ["square", "square", "M-2,0L-0.4,0M0.4,0L2,0", "M-2,0L-0.4,0M0.4,0L2,0"]}, "legend": {"orient": "none", "legendX": 128, "legendY": 6, "clipHeight": 6, "rowPadding": 0.8, "labelFontSize": 6.1, "labelOffset": 3.5, "symbolSize": 25, "symbolStrokeWidth": 1.2, "title": null, "labelExpr": "['WAMW-Fl-Hu (kDa)','WAMW-UVA260 (kDa)','Kangaroo Island bushfire start','Kangaroo Island bushfire end'][indexof(['Fl','UV','start','end'], datum.label)]"}},
            "fill": {"field": "s", "type": "nominal", "scale": {"domain": ["Fl", "UV", "start", "end"], "range": ["#7b3f00", "#6414b4", "transparent", "transparent"]}, "legend": {"orient": "none", "legendX": 128, "legendY": 6, "title": null}},
            "stroke": {"field": "s", "type": "nominal", "scale": {"domain": ["Fl", "UV", "start", "end"], "range": ["#cf9a5e", "#b39ae6", "#a84848", "#2b8f2b"]}, "legend": {"orient": "none", "legendX": 128, "legendY": 6, "title": null}}
          }
        },
        {
          "data": {"name": "fireK"},
          "mark": {"type": "rule", "strokeDash": [3, 2], "strokeWidth": 1.2},
          "encoding": {
            "x": {"field": "d", "type": "temporal", "axis": {"orient": "top", "title": "P11 site: Middle River", "labels": false, "ticks": false, "domain": false, "titlePadding": 3}},
            "stroke": {"field": "s", "type": "nominal", "scale": {"domain": ["Fl", "UV", "start", "end"], "range": ["#cf9a5e", "#b39ae6", "#a84848", "#2b8f2b"]}, "legend": null}
          }
        }
      ]
    },
    {
      "width": 230, "height": 120,
      "title": {"text": "b2)", "dx": -4},
      "resolve": {"axis": {"x": "independent"}},
      "layer": [
        {
          "data": {"name": "b2"},
          "mark": {"type": "point", "opacity": 1, "size": 30, "strokeWidth": 1.1},
          "encoding": {
            "x": {"field": "d", "type": "temporal", "scale": {"type": "utc", "domain": [1572566400000, 1644019200000]}, "axis": {"title": null, "values": [1572566400000, 1576022400000, 1579478400000, 1582934400000, 1586390400000, 1589846400000, 1593302400000, 1596758400000, 1600214400000, 1603670400000, 1607126400000, 1610582400000, 1614038400000, 1617494400000, 1620950400000, 1624406400000, 1627862400000, 1631318400000, 1634774400000, 1638230400000, 1641686400000], "format": "%-d/%m/%Y", "labelExpr": "indexof(['1/11/2019','19/05/2020','5/12/2020','23/06/2021','9/01/2022'], datum.label) >= 0 ? datum.label : ''", "labelOverlap": false, "labelFlush": false}},
            "y": {"field": "v", "type": "quantitative", "scale": {"domain": [0, 42], "nice": false}, "axis": {"title": "HPSEC-UVA260 (Peak area%)", "values": [0, 2, 4, 6, 8, 10, 12, 14, 16, 18, 20, 22, 24, 26, 28, 30, 32, 34, 36, 38, 40, 42], "format": "d", "labelOverlap": false, "labelExpr": "datum.value % 10 === 0 ? datum.label : ''"}},
            "shape": {"field": "s", "type": "nominal", "scale": {"domain": ["P1", "P2", "P3", "P4", "P5", "P6", "P7", "start", "end"], "range": ["M-1,-1L1,1M-1,1L1,-1M-0.7,-1L0.7,-1M-0.7,1L0.7,1", "M-1,0L1,0", "M-1,0L1,0M0,-1L0,1", "circle", "triangle-up", "triangle-up", "M0,-0.8L0.8,0.6L-0.8,0.6Z", "M-2,0L-0.4,0M0.4,0L2,0", "M-2,0L-0.4,0M0.4,0L2,0"]}, "legend": {"orient": "none", "direction": "horizontal", "legendX": -28, "legendY": 138, "columns": 2, "columnPadding": 20, "clipHeight": 6, "rowPadding": 1.8, "labelFontSize": 6, "labelOffset": 5, "symbolSize": 30, "symbolStrokeWidth": 1.1, "title": null, "labelExpr": "['PF-P1 (0.464 +- 0.012 kDa, mean+-SD)','PF-P2 (1.000 +- 0.000 kDa, mean+-SD)','PF-P3 (1.660 +- 0.027 kDa, mean+-SD)','PF-P4 (2.389 +- 0.073 kDa, mean+-SD)','PF-P5 (3.136 +- 0.153 kDa, mean+-SD)','PF-P6 (4.375 +- 0.357 kDa, mean+-SD)','PF-P7 (35.481 +- 10.881 kDa, mean+-SD)','Kangaroo Island bushfire start','Kangaroo Island bushfire end'][indexof(['P1','P2','P3','P4','P5','P6','P7','start','end'], datum.label)]"}},
            "fill": {"field": "s", "type": "nominal", "scale": {"domain": ["P1", "P2", "P3", "P4", "P5", "P6", "P7", "start", "end"], "range": ["transparent", "transparent", "transparent", "#7030a0", "#e00000", "#d9a21b", "#3a9a3a", "transparent", "transparent"]}, "legend": {"orient": "none", "direction": "horizontal", "columns": 2, "legendX": -28, "legendY": 138, "title": null}},
            "stroke": {"field": "s", "type": "nominal", "scale": {"domain": ["P1", "P2", "P3", "P4", "P5", "P6", "P7", "start", "end"], "range": ["#111111", "#a07ad8", "#a07ad8", "#7030a0", "#e00000", "#d9a21b", "#3a9a3a", "#ff2020", "#33cc33"]}, "legend": {"orient": "none", "direction": "horizontal", "columns": 2, "legendX": -28, "legendY": 138, "title": null}}
          }
        },
        {
          "data": {"name": "fireK"},
          "mark": {"type": "rule", "strokeDash": [3, 2], "strokeWidth": 1.2},
          "encoding": {
            "x": {"field": "d", "type": "temporal", "axis": {"orient": "top", "title": "P11 site: Middle River", "labels": false, "ticks": false, "domain": false, "titlePadding": 3}},
            "stroke": {"field": "s", "type": "nominal", "scale": {"domain": ["P1", "P2", "P3", "P4", "P5", "P6", "P7", "start", "end"], "range": ["#111111", "#a07ad8", "#a07ad8", "#7030a0", "#e00000", "#d9a21b", "#3a9a3a", "#ff2020", "#33cc33"]}, "legend": null}
          }
        }
      ]
    },
    {
      "width": 207, "height": 122,
      "title": {"text": "b3)", "dx": 0},
      "resolve": {"axis": {"x": "independent"}},
      "layer": [
        {
          "data": {"name": "b3"},
          "mark": {"type": "point", "opacity": 1, "size": 30, "strokeWidth": 1.1},
          "encoding": {
            "x": {"field": "d", "type": "temporal", "scale": {"type": "utc", "domain": [1572566400000, 1641945600000]}, "axis": {"title": null, "values": [1572566400000, 1576022400000, 1579478400000, 1582934400000, 1586390400000, 1589846400000, 1593302400000, 1596758400000, 1600214400000, 1603670400000, 1607126400000, 1610582400000, 1614038400000, 1617494400000, 1620950400000, 1624406400000, 1627862400000, 1631318400000, 1634774400000, 1638230400000, 1641686400000], "format": "%-d/%m/%Y", "labelExpr": "indexof(['1/11/2019','19/05/2020','5/12/2020','23/06/2021','9/01/2022'], datum.label) >= 0 ? datum.label : ''", "labelOverlap": false, "labelFlush": false}},
            "y": {"field": "v", "type": "quantitative", "scale": {"domain": [0, 42], "nice": false}, "axis": {"title": "HPSEC-Fl-Hu (Peak area%)", "values": [0, 2, 4, 6, 8, 10, 12, 14, 16, 18, 20, 22, 24, 26, 28, 30, 32, 34, 36, 38, 40, 42], "format": "d", "labelOverlap": false, "labelExpr": "datum.value % 10 === 0 ? datum.label : ''"}},
            "shape": {"field": "s", "type": "nominal", "scale": {"domain": ["P1", "P2", "P3", "P4", "P5", "P6", "P7", "start", "end"], "range": ["M-1,-1L1,1M-1,1L1,-1M-0.7,-1L0.7,-1M-0.7,1L0.7,1", "M-1,0L1,0", "M-1,0L1,0M0,-1L0,1", "circle", "triangle-up", "triangle-up", "M0,-0.8L0.8,0.6L-0.8,0.6Z", "M-2,0L-0.4,0M0.4,0L2,0", "M-2,0L-0.4,0M0.4,0L2,0"]}, "legend": {"orient": "none", "direction": "horizontal", "legendX": -15, "legendY": 140, "columns": 2, "columnPadding": 15, "clipHeight": 6, "rowPadding": 1.5, "labelFontSize": 5.4, "labelOffset": 7, "symbolSize": 30, "symbolStrokeWidth": 1.1, "title": null, "values": ["P1", "P2", "P3", "P4", "P5", "P6", "P7", "start"], "labelExpr": "['PF-P1 (0.464 +- 0.012 kDa, mean+-SD)','PF-P2 (1.000 +- 0.000 kDa, mean+-SD)','PF-P3 (1.660 +- 0.027 kDa, mean+-SD)','PF-P4 (1.835 +- 0.061 kDa, mean+-SD)','PF-P5 (3.136 +- 0.153 kDa, mean+-SD)','PF-P6 (4.414 +- 0.317 kDa, mean+-SD)','PF-P7 (35.481 +- 10.881 kDa, mean+-SD)','Kangaroo Island bushfire start','Kangaroo Island bushfire end'][indexof(['P1','P2','P3','P4','P5','P6','P7','start','end'], datum.label)]"}},
            "fill": {"field": "s", "type": "nominal", "scale": {"domain": ["P1", "P2", "P3", "P4", "P5", "P6", "P7", "start", "end"], "range": ["transparent", "transparent", "transparent", "#7030a0", "#e00000", "#d9a21b", "#3a9a3a", "transparent", "transparent"]}, "legend": {"orient": "none", "direction": "horizontal", "columns": 2, "legendX": -15, "legendY": 140, "title": null, "values": ["P1", "P2", "P3", "P4", "P5", "P6", "P7", "start"]}},
            "stroke": {"field": "s", "type": "nominal", "scale": {"domain": ["P1", "P2", "P3", "P4", "P5", "P6", "P7", "start", "end"], "range": ["#111111", "#a07ad8", "#a07ad8", "#7030a0", "#e00000", "#d9a21b", "#3a9a3a", "#f07878", "#33bb33"]}, "legend": {"orient": "none", "direction": "horizontal", "columns": 2, "legendX": -15, "legendY": 140, "title": null, "values": ["P1", "P2", "P3", "P4", "P5", "P6", "P7", "start"]}}
          }
        },
        {
          "data": {"name": "fireK"},
          "mark": {"type": "rule", "strokeDash": [3, 2], "strokeWidth": 1.2},
          "encoding": {
            "x": {"field": "d", "type": "temporal", "axis": {"orient": "top", "title": "P11 site: Middle River", "labels": false, "ticks": false, "domain": false, "titlePadding": 3}},
            "stroke": {"field": "s", "type": "nominal", "scale": {"domain": ["P1", "P2", "P3", "P4", "P5", "P6", "P7", "start", "end"], "range": ["#111111", "#a07ad8", "#a07ad8", "#7030a0", "#e00000", "#d9a21b", "#3a9a3a", "#f07878", "#33bb33"]}, "legend": null}
          }
        }
      ]
    }
  ]
}
